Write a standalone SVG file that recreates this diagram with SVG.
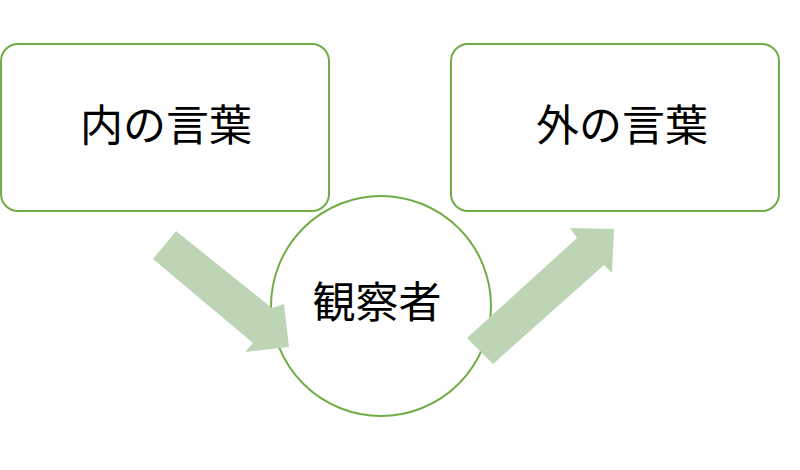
<svg xmlns="http://www.w3.org/2000/svg" width="800" height="470" viewBox="0 0 800 470">
<style>
.box{fill:#fff;stroke:#70AD47;stroke-width:2}
.arr{fill:#BDD5B4;stroke:none}
.t{font-family:"Liberation Serif","Noto Sans CJK JP",serif;font-size:43px;fill:#000;text-anchor:middle;dominant-baseline:central}
</style>
<rect width="800" height="470" fill="#fff"/>
<g id="inner-words">
<rect class="box" x="1" y="44" width="328" height="167" rx="17"/>
<text class="t" x="166" y="126">内の言葉</text>
</g>
<g id="outer-words">
<rect class="box" x="451" y="44" width="328" height="167" rx="17"/>
<text class="t" x="622" y="126">外の言葉</text>
</g>
<g id="observer">
<circle class="box" cx="381" cy="306" r="110"/>
<text class="t" x="377" y="303">観察者</text>
</g>
<g id="connectors">
<polygon class="arr" points="176,231 272,308 284,304 289,347 245,352 253,343 153,259"/>
<polygon class="arr" points="467,338 577,238 570,228 614,229 612,273 604,265 493,364"/>
</g>
</svg>
